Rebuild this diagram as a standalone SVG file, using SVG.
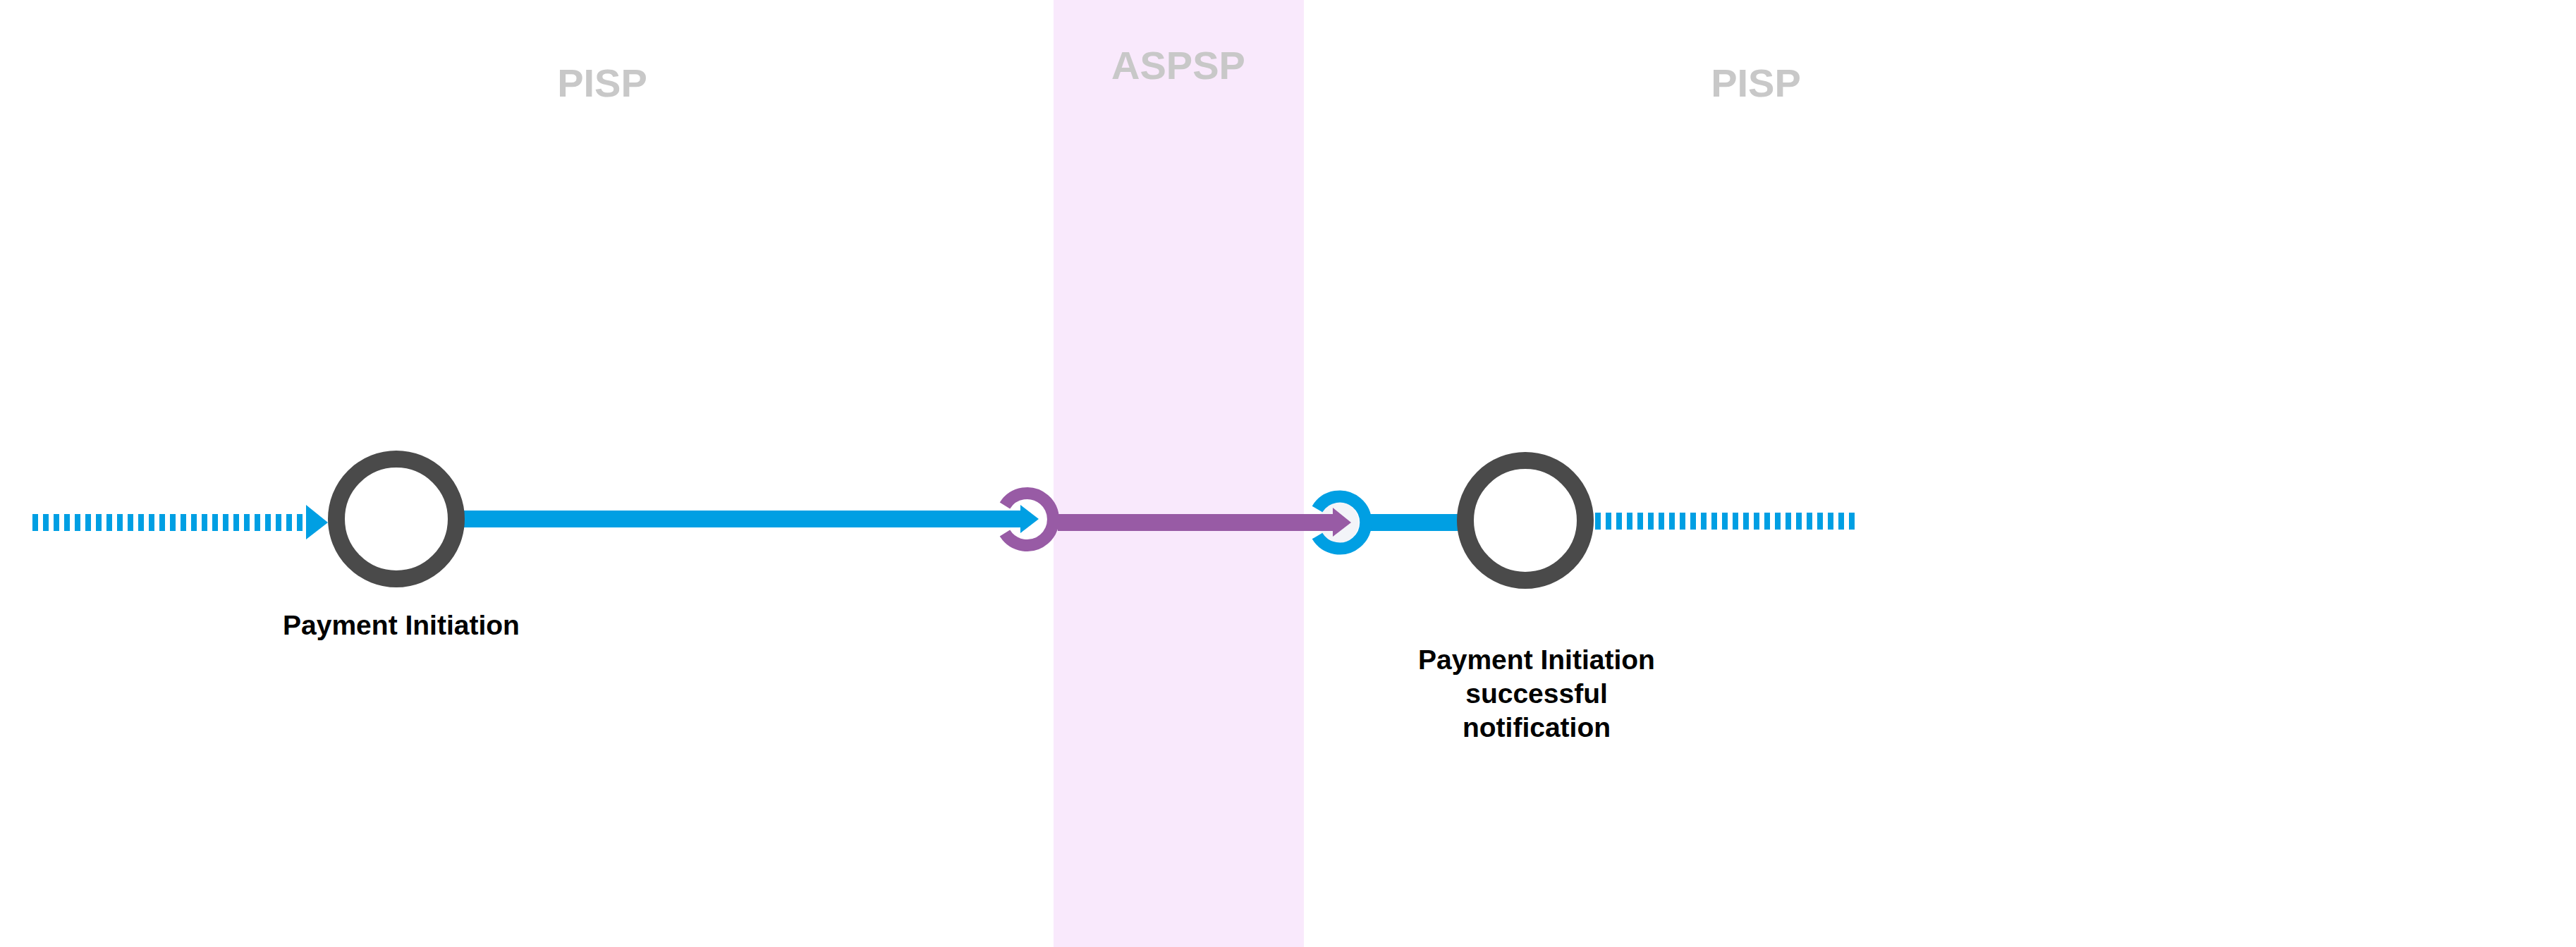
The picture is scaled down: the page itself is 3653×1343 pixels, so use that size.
<svg xmlns="http://www.w3.org/2000/svg" width="3653" height="1343" viewBox="0 0 3653 1343">
<style>
.hdr{font-family:"Liberation Sans",Arial,sans-serif;font-weight:bold;font-size:56px;fill:#c8c8c8;text-anchor:middle}
.lbl{font-family:"Liberation Sans",Arial,sans-serif;font-weight:bold;font-size:39px;fill:#000;text-anchor:middle}
.node{fill:#fff;stroke:#4a4a4a;stroke-width:24}
.dash{stroke:#009fe3;stroke-width:24;stroke-dasharray:8 7;fill:none}
</style>
<rect width="3653" height="1343" fill="#fff"/>
<rect x="1494" y="0" width="355" height="1343" fill="#f9e9fc"/>
<text class="hdr" x="854" y="137">PISP</text>
<text class="hdr" x="1671" y="112">ASPSP</text>
<text class="hdr" x="2490" y="137">PISP</text>
<g id="connectors">
<line class="dash" x1="46" y1="741" x2="434" y2="741"/>
<polygon points="434,716 465,741 434,765" fill="#009fe3"/>
<rect x="655" y="724" width="792" height="24" fill="#009fe3"/>
<path d="M1425,717 A37,37 0 1 1 1425,756" fill="none" stroke="#985ba5" stroke-width="17"/>
<polygon points="1447,716 1473,736 1447,756" fill="#009fe3"/>
<rect x="1943" y="729" width="130" height="24" fill="#009fe3"/>
<circle cx="1898" cy="741" r="29" fill="#f3f4f8"/>
<path d="M1868,722 A37,37 0 1 1 1868,760" fill="none" stroke="#009fe3" stroke-width="17"/>
<rect x="1500" y="729" width="390" height="24" fill="#985ba5"/>
<polygon points="1890,720 1916,741 1890,761" fill="#985ba5"/>
<line class="dash" x1="2262" y1="739" x2="2630" y2="739"/>
</g>
<g id="node-payment-initiation">
<circle class="node" cx="562" cy="736" r="85"/>
<text class="lbl" x="569" y="900">Payment Initiation</text>
</g>
<g id="node-payment-notification">
<circle class="node" cx="2163" cy="738" r="85"/>
<text class="lbl" x="2179" y="949">Payment Initiation</text>
<text class="lbl" x="2179" y="997">successful</text>
<text class="lbl" x="2179" y="1045">notification</text>
</g>
</svg>
